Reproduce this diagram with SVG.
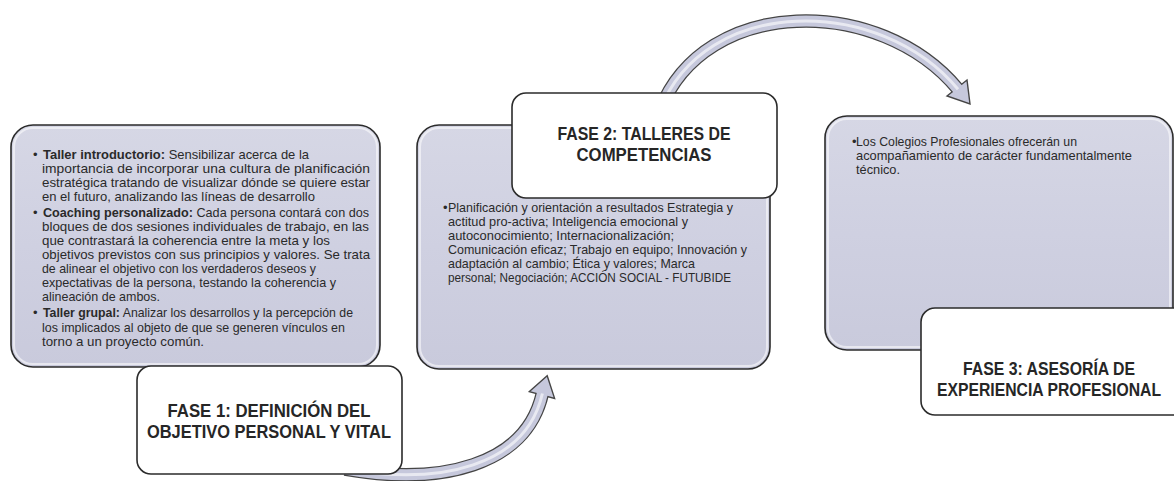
<svg xmlns="http://www.w3.org/2000/svg" width="1174" height="481" viewBox="0 0 1174 481">
<defs>
<linearGradient id="gbox" x1="0" y1="0" x2="0" y2="1">
<stop offset="0" stop-color="#d6d7e5"/>
<stop offset="0.5" stop-color="#cfd0e1"/>
<stop offset="1" stop-color="#c9cadc"/>
</linearGradient>
<style>
.gray{fill:url(#gbox);stroke:#2b2b2b;stroke-width:1.6}
.glow{fill:none;stroke:#ffffff;stroke-opacity:0.55;stroke-width:2}
.white{fill:#ffffff;stroke:#2b2b2b;stroke-width:1.6}
.body{font-family:"Liberation Sans",Arial,sans-serif;font-size:13px;fill:#2a2a2a}
.b{font-weight:bold}
.title{font-family:"Liberation Sans",Arial,sans-serif;font-size:18px;font-weight:bold;fill:#262626;text-anchor:middle}
.aout{fill:none;stroke:#454545;stroke-width:13.5}
.ain{fill:none;stroke:#c6c8dc;stroke-width:11}
.ahl{fill:none;stroke:#ffffff;stroke-opacity:0.6;stroke-width:3}
.ahead{fill:#c6c8dc;stroke:#454545;stroke-width:1.4;stroke-linejoin:miter}
</style>
</defs>
<g id="connectors">
<g id="arrow1">
<path class="aout" d="M345 469 C440 486 526 466 542.4 393.5"/>
<polygon class="ahead" points="529.4,391.6 547.2,375.7 554.6,398.4"/>
<path class="ain" d="M345 469 C440 486 526 466 542.4 393.5"/>
<path class="ahl" d="M345 469 C440 486 526 466 542.4 393.5"/>
</g>
<g id="arrow2">
<path class="aout" d="M660 110 C705 -5 880 -5 958 89.2"/>
<polygon class="ahead" points="947,96 967,80 970,104"/>
<path class="ain" d="M660 110 C705 -5 880 -5 958 89.2"/>
<path class="ahl" d="M660 110 C705 -5 880 -5 958 89.2"/>
</g>
</g>
<g id="box1">
<rect class="gray" x="11" y="125" width="369" height="242" rx="22"/>
<rect class="glow" x="14" y="128" width="363" height="236" rx="19"/>
<text class="body" x="33" y="159.3">•</text>
<text class="body" x="43" y="159.3" textLength="266" lengthAdjust="spacingAndGlyphs"><tspan class="b">Taller introductorio:</tspan> Sensibilizar acerca de la</text>
<text class="body" x="42" y="173.3" textLength="328" lengthAdjust="spacingAndGlyphs">importancia de incorporar una cultura de planificación</text>
<text class="body" x="42" y="187.3" textLength="328" lengthAdjust="spacingAndGlyphs">estratégica tratando de visualizar dónde se quiere estar</text>
<text class="body" x="42" y="201.3" textLength="273" lengthAdjust="spacingAndGlyphs">en el futuro, analizando las líneas de desarrollo</text>
<text class="body" x="33" y="217.3">•</text>
<text class="body" x="43" y="217.3" textLength="326" lengthAdjust="spacingAndGlyphs"><tspan class="b">Coaching personalizado:</tspan> Cada persona contará con dos</text>
<text class="body" x="42" y="231.3" textLength="327" lengthAdjust="spacingAndGlyphs">bloques de dos sesiones individuales de trabajo, en las</text>
<text class="body" x="42" y="245.3" textLength="288" lengthAdjust="spacingAndGlyphs">que contrastará la coherencia entre la meta y los</text>
<text class="body" x="42" y="259.3" textLength="328" lengthAdjust="spacingAndGlyphs">objetivos previstos con sus principios y valores. Se trata</text>
<text class="body" x="42" y="273.3" textLength="274" lengthAdjust="spacingAndGlyphs">de alinear el objetivo con los verdaderos deseos y</text>
<text class="body" x="42" y="287.3" textLength="294" lengthAdjust="spacingAndGlyphs">expectativas de la persona, testando la coherencia y</text>
<text class="body" x="42" y="301.3" textLength="118" lengthAdjust="spacingAndGlyphs">alineación de ambos.</text>
<text class="body" x="33" y="317.3">•</text>
<text class="body" x="43" y="317.3" textLength="310" lengthAdjust="spacingAndGlyphs"><tspan class="b">Taller grupal:</tspan> Analizar los desarrollos y la percepción de</text>
<text class="body" x="42" y="331.5" textLength="303" lengthAdjust="spacingAndGlyphs">los implicados al objeto de que se generen vínculos en</text>
<text class="body" x="42" y="345.6" textLength="162" lengthAdjust="spacingAndGlyphs">torno a un proyecto común.</text>
</g>
<g id="fase1">
<rect class="white" x="137" y="366" width="265" height="108" rx="14"/>
<text class="title" x="269" y="417" textLength="203" lengthAdjust="spacingAndGlyphs">FASE 1: DEFINICIÓN DEL</text>
<text class="title" x="269" y="438" textLength="244" lengthAdjust="spacingAndGlyphs">OBJETIVO PERSONAL Y VITAL</text>
</g>
<g id="box2">
<rect class="gray" x="417" y="125" width="353" height="244" rx="22"/>
<rect class="glow" x="420" y="128" width="347" height="238" rx="19"/>
<text class="body" x="443" y="211.7">•</text>
<text class="body" x="448" y="211.7" textLength="285" lengthAdjust="spacingAndGlyphs">Planificación y orientación a resultados Estrategia y</text>
<text class="body" x="448" y="225.7" textLength="240" lengthAdjust="spacingAndGlyphs">actitud pro-activa; Inteligencia emocional y</text>
<text class="body" x="448" y="239.7" textLength="226" lengthAdjust="spacingAndGlyphs">autoconocimiento; Internacionalización;</text>
<text class="body" x="448" y="253.7" textLength="299" lengthAdjust="spacingAndGlyphs">Comunicación eficaz; Trabajo en equipo; Innovación y</text>
<text class="body" x="448" y="267.7" textLength="247" lengthAdjust="spacingAndGlyphs">adaptación al cambio; Ética y valores; Marca</text>
<text class="body" x="448" y="281.7" textLength="283" lengthAdjust="spacingAndGlyphs">personal; Negociación; ACCIÓN SOCIAL - FUTUBIDE</text>
</g>
<g id="fase2">
<rect class="white" x="512" y="93" width="265" height="105" rx="14"/>
<text class="title" x="644" y="140" textLength="173" lengthAdjust="spacingAndGlyphs">FASE 2: TALLERES DE</text>
<text class="title" x="644" y="161" textLength="135" lengthAdjust="spacingAndGlyphs">COMPETENCIAS</text>
</g>
<g id="box3">
<rect class="gray" x="825" y="116" width="348" height="234" rx="22"/>
<rect class="glow" x="828" y="119" width="342" height="228" rx="19"/>
<text class="body" x="852" y="146">•</text>
<text class="body" x="856" y="146" textLength="221" lengthAdjust="spacingAndGlyphs">Los Colegios Profesionales ofrecerán un</text>
<text class="body" x="856" y="160.3" textLength="276" lengthAdjust="spacingAndGlyphs">acompañamiento de carácter fundamentalmente</text>
<text class="body" x="856" y="174.3" textLength="44" lengthAdjust="spacingAndGlyphs">técnico.</text>
</g>
<g id="fase3">
<rect class="white" x="921" y="308" width="270" height="107" rx="14"/>
<text class="title" x="1049" y="375" textLength="172" lengthAdjust="spacingAndGlyphs">FASE 3: ASESORÍA DE</text>
<text class="title" x="1049" y="396" textLength="224" lengthAdjust="spacingAndGlyphs">EXPERIENCIA PROFESIONAL</text>
</g>
</svg>
